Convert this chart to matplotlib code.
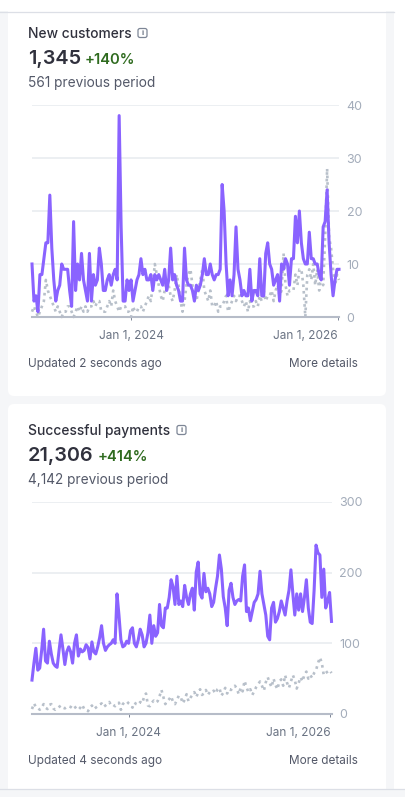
import pandas as pd
import matplotlib
matplotlib.use("Agg")
import matplotlib.pyplot as plt
import matplotlib.dates as mdates
from matplotlib.patches import FancyBboxPatch, Rectangle

plt.rcParams['font.family'] = ['Inter', 'DejaVu Sans']

# Datos semanales
customers_now = [
    10, 3, 4, 1, 8, 8, 11, 14, 14, 23,
    13, 7, 3, 5, 6, 10, 9, 9, 9, 5,
    2, 18, 5, 10, 7, 12, 7, 5, 3, 12,
    3, 8, 6, 7, 13, 10, 5, 5, 7, 8,
    6, 8, 9, 7, 38, 17, 3, 3, 7, 5,
    7, 3, 5, 7, 8, 11, 8, 9, 7, 7,
    8, 5, 8, 7, 8, 7, 6, 9, 5, 7,
    13, 7, 8, 6, 5, 3, 3, 13, 7, 6,
    6, 5, 3, 6, 5, 6, 8, 11, 8, 8,
    10, 8, 7, 8, 8, 9, 25, 20, 10, 4,
    7, 4, 8, 17, 9, 7, 4, 5, 4, 4,
    9, 3, 5, 5, 4, 11, 4, 4, 12, 14,
    10, 9, 6, 7, 8, 3, 10, 9, 11, 10,
    6, 11, 11, 19, 14, 20, 14, 11, 10, 10,
    16, 11, 11, 10, 10, 8, 7, 17, 18, 24,
    14, 8, 4, 7, 9, 9]
customers_prev = [
    1, 2, 1, 0, 1, 2, 3, 7, 5, 4,
    3, 2, 1, 2, 1, 0, 1, 1, 2, 2,
    1, 0, 1, 2, 1, 2, 1, 2, 1, 2,
    2, 3, 2, 3, 3, 1, 1, 1, 2, 3,
    2, 5, 3, 2, 1, 2, 2, 2, 1, 1,
    0, 2, 1, 1, 2, 2, 1, 2, 3, 4,
    3, 6, 10, 8, 6, 4, 3, 5, 7, 6,
    4, 3, 5, 8, 6, 3, 1, 3, 6, 8,
    9, 6, 4, 3, 5, 7, 9, 5, 4, 3,
    5, 2, 2, 3, 1, 2, 2, 3, 4, 1,
    2, 3, 4, 3, 4, 4, 3, 2, 3, 1,
    3, 2, 2, 3, 2, 4, 3, 5, 3, 4,
    4, 5, 3, 5, 6, 4, 5, 12, 6, 4,
    5, 5, 5, 8, 6, 9, 9, 6, 0, 8,
    9, 7, 10, 6, 9, 5, 8, 6, 15, 28,
    15, 13, 9, 6, 8, 7]
payments_now = [
    48, 72, 93, 62, 65, 90, 120, 75, 72, 103,
    85, 72, 68, 66, 90, 112, 92, 70, 88, 95,
    88, 72, 100, 112, 82, 92, 88, 90, 98, 94,
    78, 102, 88, 85, 95, 108, 125, 100, 90, 95,
    98, 100, 105, 100, 170, 140, 105, 95, 97, 103,
    100, 118, 122, 100, 95, 105, 120, 112, 95, 100,
    115, 140, 100, 125, 110, 115, 155, 125, 122, 150,
    150, 165, 190, 180, 155, 195, 155, 160, 152, 182,
    165, 155, 170, 178, 147, 201, 215, 170, 164, 199,
    173, 178, 170, 152, 158, 178, 195, 225, 205, 166,
    150, 125, 175, 185, 165, 155, 160, 162, 160, 195,
    211, 145, 150, 132, 145, 158, 162, 170, 202, 170,
    155, 140, 110, 105, 150, 158, 130, 135, 145, 160,
    150, 140, 160, 175, 204, 170, 140, 170, 147, 170,
    145, 165, 190, 150, 130, 128, 175, 239, 228, 225,
    165, 205, 150, 160, 172, 131]
payments_prev = [
    7, 15, 10, 9, 6, 9, 14, 9, 7, 13,
    14, 8, 6, 8, 10, 12, 9, 8, 10, 11,
    10, 8, 11, 7, 6, 9, 13, 7, 6, 4,
    9, 12, 7, 9, 11, 13, 15, 10, 12, 14,
    17, 12, 13, 11, 14, 16, 6, 14, 17, 18,
    15, 13, 9, 16, 14, 13, 17, 15, 24, 29,
    12, 11, 16, 19, 16, 18, 25, 34, 24, 14,
    18, 21, 25, 17, 14, 20, 26, 24, 15, 20,
    28, 18, 23, 27, 31, 24, 30, 35, 27, 29,
    34, 27, 31, 30, 33, 29, 35, 37, 26, 30,
    37, 29, 35, 34, 38, 40, 36, 28, 37, 32,
    47, 38, 31, 35, 27, 32, 38, 42, 46, 40,
    33, 45, 52, 44, 38, 50, 41, 35, 46, 49,
    40, 55, 44, 37, 46, 55, 48, 36, 44, 52,
    46, 56, 60, 50, 55, 51, 58, 62, 72, 80,
    72, 55, 58, 60, 62, 58]
customers_ticks = [0, 10, 20, 30, 40]
payments_ticks = [0, 100, 200, 300]
date_labels = ["Jan 1, 2024", "Jan 1, 2026"]
date_ticks = ["2024-01-01", "2026-01-01"]

W, H = 405, 797
PURPLE = "#8a63ff"
GRAY = "#b8c0ca"
GRID = "#e9ecf0"
BASE = "#b6bcc8"
DARK = "#30313d"
MID = "#545969"
TICK = "#a3acba"
GREEN = "#2f6b1f"

fig = plt.figure(figsize=(W / 100, H / 100), dpi=100, facecolor="white")
bg = fig.add_axes([0, 0, 1, 1], zorder=0)
bg.set_xlim(0, W)
bg.set_ylim(H, 0)
bg.axis("off")

# Fondo y tarjetas
bg.add_patch(Rectangle((0, 11), 394, 778, fc="#f5f6f8", ec="none"))
bg.add_patch(FancyBboxPatch((8, 4), 378, 392, boxstyle="round,pad=0,rounding_size=6", fc="white", ec="none"))
bg.add_patch(Rectangle((0, 0), W, 11, fc="white", ec="none", zorder=2))
bg.plot([0, 394], [11.5, 11.5], color="#dcdfe6", lw=0.9, zorder=3)
bg.add_patch(FancyBboxPatch((8, 404), 378, 395, boxstyle="round,pad=0,rounding_size=6", fc="white", ec="none"))
bg.add_patch(Rectangle((0, 789), W, 8, fc="#f5f6f8", ec="none", zorder=2))
bg.plot([0, W], [788.7, 788.7], color="#dcdfe6", lw=0.9, zorder=3)


def header(title, total, change, prev, y0, icon_x, change_x):
    bg.text(28, y0 + 1, title, fontsize=9.95, color=DARK, fontweight="medium", va="center")
    bg.add_patch(FancyBboxPatch((icon_x, y0 - 4.5), 9, 9, boxstyle="round,pad=0,rounding_size=2",
                                fc="white", ec="#7d8696", lw=0.9))
    bg.text(icon_x + 4.5, y0, "i", fontsize=5.5, color="#6a7383", fontweight="bold", ha="center", va="center")
    bg.text(28, y0 + 25.5, total, fontsize=14.3, color=DARK, fontweight="semibold", va="center")
    bg.text(change_x, y0 + 27, change, fontsize=10.6, color=GREEN, fontweight="semibold", va="center")
    bg.text(28, y0 + 49.5, prev, fontsize=9.85, color=MID, va="center")


def chart(now, prev, ticks, px_right, px_top, px_bottom):
    ax = fig.add_axes([32 / W, 1 - px_bottom / H, (px_right - 32) / W, (px_bottom - px_top) / H], zorder=1)
    ax.patch.set_alpha(0)
    weeks = pd.date_range(end="2026-01-05", periods=len(now), freq="7D")
    ax.plot(weeks, prev, color=GRAY, lw=1.9, ls=(0, (1, 1.5)), clip_on=False, zorder=2)
    ax.plot(weeks, now, color=PURPLE, lw=2.2, solid_joinstyle="round", clip_on=False, zorder=3)
    ax.set_xlim(weeks[0], weeks[-1])
    ax.set_ylim(ticks[0], ticks[-1])
    for side in ["top", "left", "right"]:
        ax.spines[side].set_visible(False)
    ax.spines["bottom"].set_color(BASE)
    ax.spines["bottom"].set_linewidth(1.5)
    ax.set_axisbelow(True)
    ax.grid(axis="y", color=GRID, lw=1.2)
    ax.yaxis.tick_right()
    ax.set_yticks(ticks)
    ax.tick_params(axis="y", length=0, pad=5.5, labelsize=9, labelcolor=TICK)
    ax.set_xticks([mdates.date2num(pd.Timestamp(d)) for d in date_ticks])
    ax.set_xticklabels(date_labels)
    ax.tick_params(axis="x", length=2.5, width=0.7, color="#7d8696", pad=6.5, labelsize=8.5, labelcolor="#6a7383")
    labels = ax.get_xticklabels()
    labels[1].set_ha("right")
    return ax


header("New customers", "1,345", "+140%", "561 previous period", 33, 138, 85)
chart(customers_now, customers_prev, customers_ticks, 339, 105, 317)
bg.text(28, 364, "Updated 2 seconds ago", fontsize=8.5, color=MID, va="center")
bg.text(357.5, 364, "More details", fontsize=8.45, color=MID, va="center", ha="right")

header("Successful payments", "21,306", "+414%", "4,142 previous period", 430, 177, 98)
chart(payments_now, payments_prev, payments_ticks, 331.5, 502, 714)
bg.text(28, 761, "Updated 4 seconds ago", fontsize=8.5, color=MID, va="center")
bg.text(357.5, 761, "More details", fontsize=8.45, color=MID, va="center", ha="right")

fig.savefig("out.png", dpi=100)
